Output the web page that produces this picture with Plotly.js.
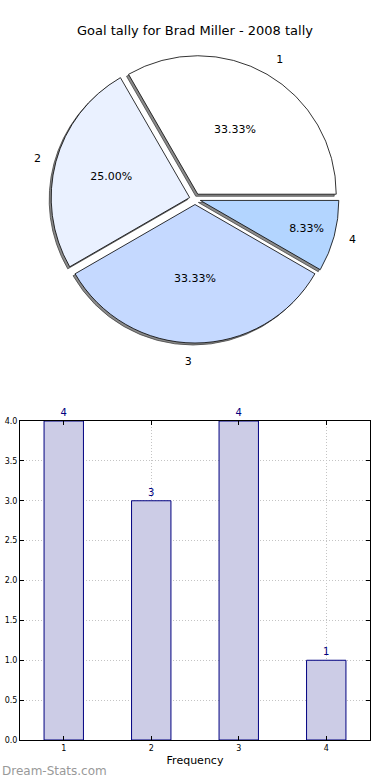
<!DOCTYPE html>
<html>
<head>
<meta charset="utf-8">
<script src="https://cdn.plot.ly/plotly-3.0.1.min.js"></script>
<style>html,body{margin:0;padding:0;background:#fff;}#chart{width:390px;height:780px;}</style>
</head>
<body>
<div id="chart"></div>
<script>
// Data
var pieLabels = ['1', '2', '3', '4'];
var pieValues = [4, 3, 4, 1];
var pieColors = ['#ffffff', '#eaf1ff', '#c5d9ff', '#b3d5ff'];
var barCategories = [1, 2, 3, 4];
var barValues = [4, 3, 4, 1];
var yTicks = [0, 0.5, 1.0, 1.5, 2.0, 2.5, 3.0, 3.5, 4.0];
var yTickText = ['0.0', '0.5', '1.0', '1.5', '2.0', '2.5', '3.0', '3.5', '4.0'];

var W = 390, H = 780;
var pull = pieValues.map(function(){ return 0.04; });
var pieDom = {x: [50 / W, 340 / W], y: [(H - 343) / H, (H - 55) / H]};
var shadowDom = {x: [(50 - 2) / W, (340 - 2) / W], y: [(H - 345) / H, (H - 57) / H]};
var labDom = {x: [39 / W, 351 / W], y: [(H - 355) / H, (H - 43) / H]};
var font = 'DejaVu Sans, sans-serif';
var rot = -30;

var shadow = {
  type: 'pie', labels: pieLabels, values: pieValues, sort: false,
  direction: 'counterclockwise', rotation: rot, pull: pull,
  domain: shadowDom, showlegend: false, hoverinfo: 'skip',
  marker: {colors: pieValues.map(function(){ return 'rgba(110,110,110,0.8)'; }),
           line: {color: 'rgba(70,70,70,0.8)', width: 1}},
  textinfo: 'none'
};
var pie = {
  type: 'pie', labels: pieLabels, values: pieValues, sort: false,
  direction: 'counterclockwise', rotation: rot, pull: pull,
  domain: pieDom, showlegend: false,
  marker: {colors: pieColors, line: {color: '#000000', width: 0.8}},
  texttemplate: '%{percent:.2%}', textposition: 'inside',
  insidetextorientation: 'horizontal',
  textfont: {family: font, size: 11, color: '#000000'}
};
var pieLab = {
  type: 'pie', labels: pieLabels, values: pieValues, sort: false,
  direction: 'counterclockwise', rotation: rot, pull: pull,
  domain: labDom, showlegend: false, hoverinfo: 'skip',
  marker: {colors: pieValues.map(function(){ return 'rgba(0,0,0,0)'; }), line: {width: 0}},
  texttemplate: '%{label}', textposition: 'outside',
  outsidetextfont: {family: font, size: 11, color: '#000000'}
};
var bars = {
  type: 'bar', x: barCategories, y: barValues, width: 0.45,
  marker: {color: '#ccccE6', line: {color: '#000080', width: 1}},
  text: barValues.map(String), textposition: 'outside', cliponaxis: false,
  textfont: {family: font, size: 10, color: '#000080'},
  showlegend: false, xaxis: 'x', yaxis: 'y'
};

var layout = {
  width: W, height: H,
  margin: {l: 0, r: 0, t: 0, b: 0},
  paper_bgcolor: '#ffffff', plot_bgcolor: '#ffffff',
  font: {family: font, color: '#000000'},
  title: {text: 'Goal tally for Brad Miller - 2008 tally', x: 0.5, xanchor: 'center',
          y: 1 - 30 / H, yanchor: 'middle', font: {family: font, size: 13, color: '#000000'}},
  xaxis: {
    domain: [20 / W, 370 / W], range: [0.5, 4.5], tickvals: barCategories,
    ticktext: barCategories.map(String), ticks: 'inside', ticklen: 4, tickcolor: '#000',
    showline: true, linecolor: '#000', linewidth: 1, mirror: 'allticks',
    showgrid: true, gridcolor: '#c4c4c4', griddash: '1px,2px', gridwidth: 1,
    zeroline: false, tickfont: {family: font, size: 8, color: '#000'},
    title: {text: 'Frequency', font: {family: font, size: 11, color: '#000'}, standoff: 4},
    fixedrange: true
  },
  yaxis: {
    domain: [(H - 740) / H, (H - 421) / H], range: [0, 4], tickvals: yTicks, ticktext: yTickText,
    ticks: 'inside', ticklen: 4, tickcolor: '#000',
    showline: true, linecolor: '#000', linewidth: 1, mirror: 'allticks',
    showgrid: true, gridcolor: '#c4c4c4', griddash: '1px,2px', gridwidth: 1,
    zeroline: false, tickfont: {family: font, size: 8, color: '#000'},
    fixedrange: true
  },
  annotations: [{
    text: 'Dream-Stats.com', xref: 'paper', yref: 'paper', x: 0, y: (H - 771) / H,
    xanchor: 'left', yanchor: 'middle', showarrow: false,
    font: {family: font, size: 12, color: '#999999'}
  }]
};

Plotly.newPlot('chart', [shadow, pie, pieLab, bars], layout, {displayModeBar: false, staticPlot: true});
</script>
</body>
</html>
